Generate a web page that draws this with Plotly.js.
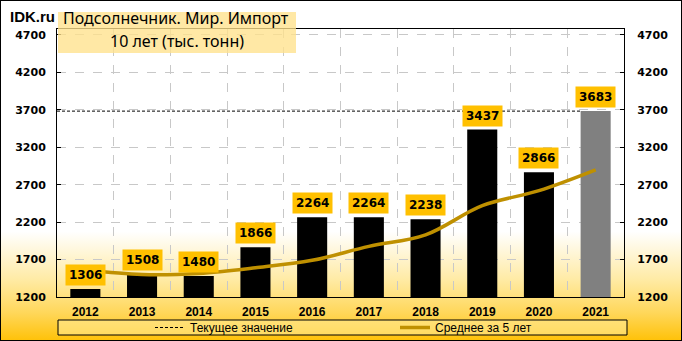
<!DOCTYPE html>
<html><head><meta charset="utf-8">
<script src="https://cdn.plot.ly/plotly-3.0.1.min.js"></script>
<style>
html,body{margin:0;padding:0;}
#wrap{position:relative;width:682px;height:341px;box-sizing:border-box;border:1px solid #000;
background:linear-gradient(to bottom,#ffffff 0%,#ffffff 68%,#FFEBA6 82%,#FFD75A 92%,#FFC20A 100%);}
#chart{position:absolute;left:-1px;top:-1px;width:682px;height:341px;}
</style></head>
<body><div id="wrap"><div id="chart"></div></div>
<script>
const years = ['2012','2013','2014','2015','2016','2017','2018','2019','2020','2021'];
const imports = [1306,1508,1480,1866,2264,2264,2238,3437,2866,3683];
const avg5 = [1560,1500,1515,1590,1690,1876,2030,2420,2620,2898];
const yTicks = [1200,1700,2200,2700,3200,3700,4200,4700];
const titleLine1 = 'Подсолнечник. Мир. Импорт';
const titleLine2 = '10 лет (тыс. тонн)';
const brand = 'IDK.ru';
const legendCurrent = 'Текущее значение';
const legendAvg = 'Среднее за 5 лет';

const n = years.length;
const idx = years.map((_, i) => i);
const barW = 0.53;
const current = imports[n - 1];
const barColors = imports.map((_, i) => i === n - 1 ? '#808080' : '#000000');
const yRange = [1200, 4780];

const traces = [
  {type:'bar', x: idx, y: imports, width: barW, marker:{color: barColors, line:{width:0}},
   showlegend:false, hoverinfo:'skip'},
  {type:'scatter', mode:'lines', x:[-0.5, (n - 1) - barW/2], y:[current, current], yaxis:'y2',
   name: legendCurrent, line:{color:'#000', width:1, dash:'3px,2px'}},
  {type:'scatter', mode:'lines', x: idx, y: avg5, name: legendAvg,
   line:{color:'#BF9000', width:3.5, shape:'spline', smoothing:1}}
];

const annotations = imports.map((v, i) => ({
  x: i, y: v, xref:'x', yref:'y', text: String(v), showarrow:false,
  yanchor:'bottom', yshift: 3, bgcolor:'#FFC000', borderpad: 3,
  font:{family:'DejaVu Sans', size:12, color:'#000', weight:'bold'}
}));
annotations.push(
  {xref:'paper', yref:'paper', x:(176-57)/567, y:(297-18)/268, text: titleLine1, showarrow:false,
   xanchor:'center', yanchor:'middle', font:{family:'Noto Sans', size:16, color:'#000'}},
  {xref:'paper', yref:'paper', x:(177-57)/567, y:(297-41)/268, text: titleLine2, showarrow:false,
   xanchor:'center', yanchor:'middle', font:{family:'Noto Sans', size:16, color:'#000'}},
  {xref:'paper', yref:'paper', x:(8-57)/567, y:(297-16)/268, text: brand, showarrow:false,
   xanchor:'left', yanchor:'middle', font:{family:'Liberation Sans', size:15, color:'#000', weight:'bold'}}
);

const shapes = [
  {type:'rect', xref:'paper', yref:'paper', x0:(58-57)/567, x1:(296-57)/567, y0:(297-53)/268, y1:(297-12)/268,
   fillcolor:'rgba(255,226,140,0.78)', line:{width:0}, layer:'above'},
  {type:'rect', xref:'paper', yref:'paper', x0:(58-57)/567, x1:(627-57)/567, y0:(297-335)/268, y1:(297-320)/268,
   fillcolor:'rgba(255,236,160,0.55)', line:{color:'#000', width:1}, layer:'below'}
];

const axisY = {
  range: yRange, tickvals: yTicks, ticks:'inside', ticklen:4, tickcolor:'#000',
  showgrid:true, gridcolor:'#C8C8C8', griddash:'dash', gridwidth:1,
  showline:true, linecolor:'#000', linewidth:1, zeroline:false, fixedrange:true,
  tickfont:{family:'DejaVu Sans', size:11, color:'#000', weight:'bold'}, ticklabelstandoff: 8
};

const layout = {
  width:682, height:341,
  margin:{l:57, r:58, t:29, b:44, autoexpand:false},
  paper_bgcolor:'rgba(0,0,0,0)', plot_bgcolor:'rgba(0,0,0,0)',
  xaxis:{range:[-0.5, n - 0.5], tickvals: idx, ticktext: years, ticks:'', showgrid:false,
    showline:true, linecolor:'#000', linewidth:1, mirror:true, zeroline:false,
    minor:{tickvals: idx.slice(1).map(i => i - 0.5), showgrid:true, gridcolor:'#C8C8C8', griddash:'dash', ticks:''},
    tickfont:{family:'Liberation Sans', size:12, color:'#000', weight:'bold'}, ticklabelstandoff: 4},
  yaxis: Object.assign({}, axisY),
  yaxis2: Object.assign({}, axisY, {overlaying:'y', side:'right', showgrid:false, ticklabelstandoff: 10}),
  showlegend:true,
  legend:{orientation:'h', x:(150-57)/567, xanchor:'left', y:(297-327.5)/268, yanchor:'middle',
    bgcolor:'rgba(0,0,0,0)', borderwidth:0, entrywidth: 200, entrywidthmode:'pixels',
    font:{family:'Liberation Sans', size:12, color:'#000'}, itemclick:false},
  annotations, shapes,
  bargap:0.47
};

Plotly.newPlot('chart', traces, layout, {staticPlot:true, displayModeBar:false});
</script></body></html>
